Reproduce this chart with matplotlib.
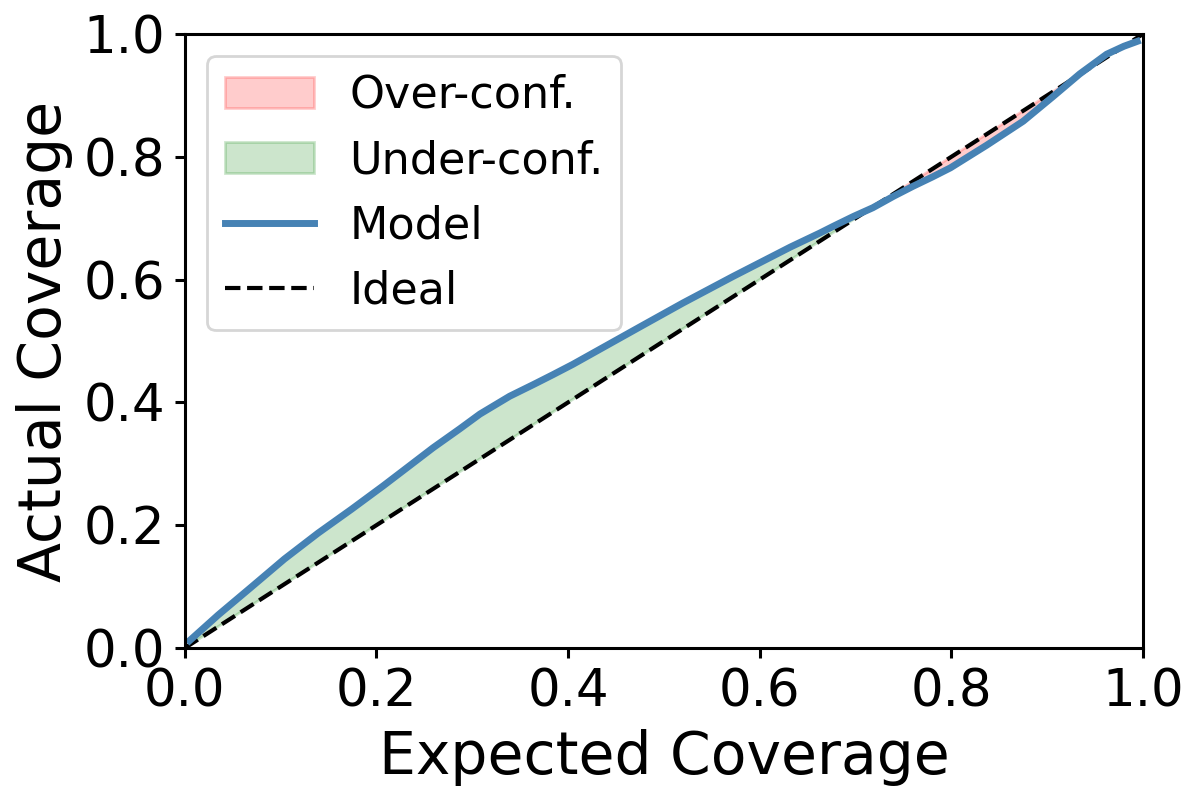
import numpy as np
import matplotlib.pyplot as plt

plt.rcParams["font.family"] = "DejaVu Sans"

# expected coverage levels and the model's actual coverage
expected = [0.005, 0.035, 0.070, 0.104, 0.139, 0.174, 0.207, 0.228, 0.259, 0.287,
            0.308, 0.339, 0.365, 0.384, 0.405, 0.444, 0.475, 0.520, 0.572, 0.632,
            0.663, 0.677, 0.698, 0.718, 0.740, 0.760, 0.780, 0.799, 0.837, 0.875,
            0.906, 0.934, 0.962, 0.980, 0.994]
actual = [0.012, 0.054, 0.100, 0.145, 0.187, 0.226, 0.264, 0.289, 0.326, 0.357,
          0.381, 0.410, 0.430, 0.445, 0.462, 0.496, 0.523, 0.562, 0.605, 0.653,
          0.676, 0.687, 0.703, 0.717, 0.736, 0.752, 0.767, 0.782, 0.819, 0.858,
          0.898, 0.935, 0.967, 0.980, 0.988]
ideal = [0.0, 1.0]

x = np.array(expected)
y = np.array(actual)

fig, ax = plt.subplots(figsize=(6, 4), dpi=200)
fig.subplots_adjust(left=0.154, right=0.9525, top=0.9575, bottom=0.19)

over = ax.fill_between(x, x, y, where=y < x, interpolate=True,
                       color='red', alpha=0.2, label='Over-conf.')
under = ax.fill_between(x, x, y, where=y >= x, interpolate=True,
                        color='green', alpha=0.2, label='Under-conf.')
ideal_line, = ax.plot(ideal, ideal, 'k--', linewidth=1.5, label='Ideal')
model_line, = ax.plot(x, y, color='steelblue', linewidth=2.5, label='Model')

ax.set_xlim(0, 1)
ax.set_ylim(0, 1)
ax.set_xticks([0, 0.2, 0.4, 0.6, 0.8, 1.0])
ax.set_yticks([0, 0.2, 0.4, 0.6, 0.8, 1.0])
ax.tick_params(labelsize=18.5, width=1.1)
for s in ax.spines.values():
    s.set_linewidth(1.1)
ax.set_xlabel('Expected Coverage', fontsize=21)
ax.set_ylabel('Actual Coverage', fontsize=21)

ax.legend(handles=[over, under, model_line, ideal_line], loc='upper left', fontsize=16)

plt.savefig("out.png", dpi=200)
